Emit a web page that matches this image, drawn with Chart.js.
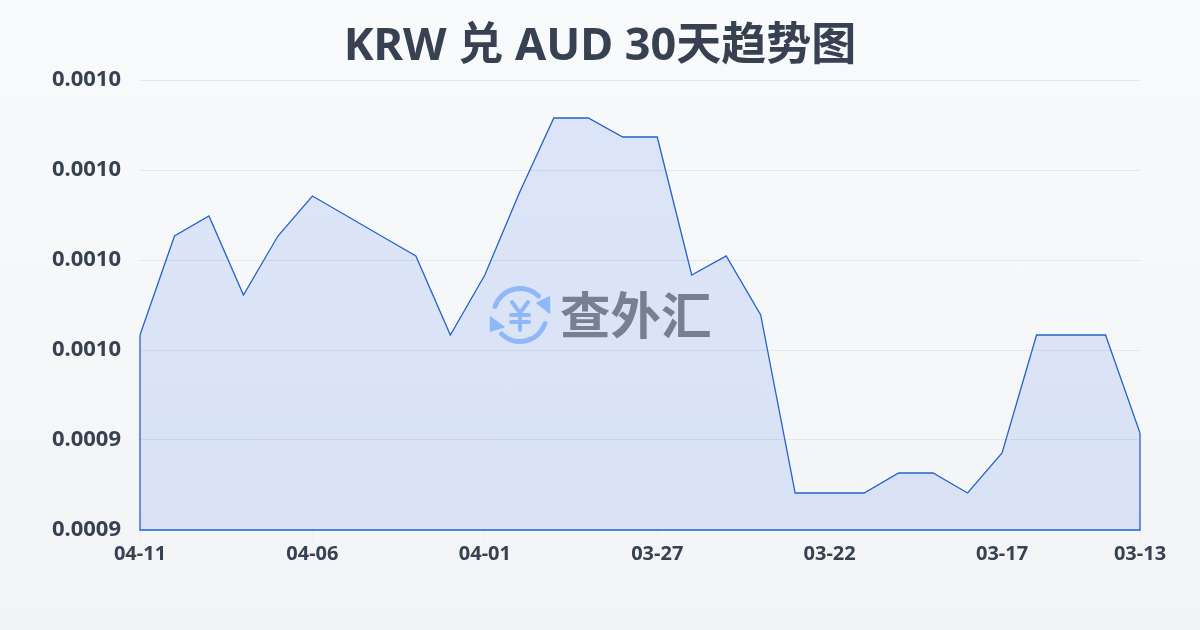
<!DOCTYPE html>
<html>
<head>
<meta charset="utf-8">
<script src="https://cdn.jsdelivr.net/npm/chart.js@4"></script>
<style>
  html, body { margin: 0; padding: 0; }
  body { width: 1200px; height: 630px; overflow: hidden; position: relative; background: linear-gradient(180deg, #f8fafc 0%, #f3f4f6 100%); font-family: "Noto Sans", "Noto Sans CJK SC", sans-serif; }
  #wrap { position: absolute; left: 0; top: 0; width: 1200px; height: 630px; }
  #mark { position: absolute; left: 488px; top: 283px; width: 64px; height: 64px; }
  #markText { position: absolute; left: 560px; top: 276px; font: 700 50.5px/72px "Noto Sans CJK SC", sans-serif; color: #77808f; white-space: nowrap; }
</style>
</head>
<body>
<div id="wrap"><canvas id="chart" width="1200" height="630"></canvas></div>
<svg id="mark" viewBox="0 0 64 64" fill="none">
  <g stroke="#8fb8f8" stroke-linecap="round" stroke-linejoin="round">
    <path stroke-width="5" d="M7 23.5 A26.5 26.5 0 0 1 50.5 13"/>
    <path stroke-width="5" d="M57 40.5 A26.5 26.5 0 0 1 13.5 51"/>
    <path stroke-width="4" d="M24 19 L32 30 L40 19 M32 30 V47 M23 32 H41 M23 39 H41"/>
  </g>
  <path d="M61.5 14 L61.5 30 L49 20 Z M2.5 34 L2.5 48 L16 44 Z" fill="#8fb8f8" stroke="#8fb8f8" stroke-width="1.5" stroke-linejoin="round"/>
</svg>
<div id="markText">查外汇</div>
<script>
const titleText = 'KRW 兑 AUD 30天趋势图';

const dates = ['04-11','04-10','04-09','04-08','04-07','04-06','04-05','04-04','04-03','04-02',
  '04-01','03-31','03-30','03-29','03-28','03-27','03-26','03-25','03-24','03-23',
  '03-22','03-21','03-20','03-19','03-18','03-17','03-16','03-15','03-14','03-13'];

const rates = [0.00096333,0.00098533,0.00098978,0.00097222,0.00098533,0.00099422,0.00098978,0.00098533,0.00098089,0.00096333,
  0.00097667,0.00099489,0.00101156,0.00101156,0.00100733,0.00100733,0.00097667,0.00098089,0.00096778,0.00092822,
  0.00092822,0.00092822,0.00093267,0.00093267,0.00092822,0.00093711,0.00096333,0.00096333,0.00096333,0.00094156];

const yMin = 0.00092;
const yMax = 0.00102;
const yStep = 0.00002;

const lineColor = '#2563c9';

function isLabelled(index) {
  return index % 5 === 0 || index === dates.length - 1;
}

// closes the area outline down the sides and along the bottom
const outlinePlugin = {
  id: 'outline',
  afterDatasetsDraw(chart) {
    const pts = chart.getDatasetMeta(0).data;
    const base = chart.scales.y.bottom;
    const first = pts[0];
    const last = pts[pts.length - 1];
    const c = chart.ctx;
    c.save();
    c.strokeStyle = lineColor;
    c.lineWidth = 1.3;
    c.beginPath();
    c.moveTo(first.x, first.y);
    c.lineTo(first.x, base);
    c.lineTo(last.x, base);
    c.lineTo(last.x, last.y);
    c.stroke();
    c.restore();
  }
};

new Chart(document.getElementById('chart').getContext('2d'), {
  type: 'line',
  data: {
    labels: dates,
    datasets: [{
      data: rates,
      borderColor: lineColor,
      borderWidth: 1.3,
      backgroundColor: 'rgba(37, 99, 235, 0.13)',
      fill: 'start',
      pointRadius: 0,
      tension: 0
    }]
  },
  options: {
    responsive: false,
    animation: false,
    plugins: {
      legend: { display: false },
      tooltip: { enabled: false },
      title: {
        display: true,
        text: titleText,
        color: '#374151',
        font: { family: '"Noto Sans", "Noto Sans CJK SC", sans-serif', size: 45, weight: 'bold' },
        padding: { top: 20, bottom: 6 }
      }
    },
    scales: {
      x: {
        offset: false,
        grid: {
          drawOnChartArea: false,
          tickLength: 10,
          tickColor: ctx => isLabelled(ctx.index) ? '#eceeef' : 'rgba(0,0,0,0)'
        },
        border: { display: false },
        afterFit(scale) { scale.height = 100; },
        ticks: {
          autoSkip: false,
          maxRotation: 0,
          padding: 2,
          color: '#374151',
          font: { family: '"Noto Sans", sans-serif', size: 20, weight: 'bold' },
          callback(value, index) {
            return isLabelled(index) ? dates[index] : '';
          }
        }
      },
      y: {
        min: yMin,
        max: yMax,
        grid: { color: '#e5e7eb', lineWidth: 1, drawTicks: false },
        border: { display: false },
        afterFit(scale) { scale.width = 140; },
        ticks: {
          stepSize: yStep,
          padding: 19,
          color: '#374151',
          font: { family: '"Noto Sans", sans-serif', size: 22, weight: 'bold' },
          callback(value) { return value.toFixed(4); }
        }
      },
      // empty axis, keeps the right margin so the title stays centred on the page
      yRight: {
        position: 'right',
        min: yMin,
        max: yMax,
        grid: { display: false, drawTicks: false },
        border: { display: false },
        ticks: { display: false },
        afterFit(scale) { scale.width = 60; }
      }
    }
  },
  plugins: [outlinePlugin]
});
</script>
</body>
</html>
